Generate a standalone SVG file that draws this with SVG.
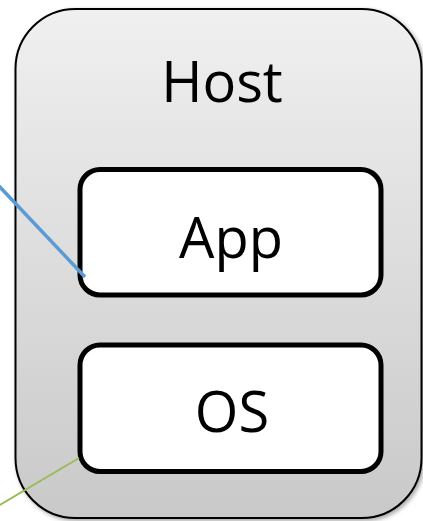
<svg xmlns="http://www.w3.org/2000/svg" width="423" height="521" viewBox="0 0 423 521">
  <defs>
    <linearGradient id="hostFill" x1="0" y1="0" x2="0" y2="1">
      <stop offset="0" stop-color="#f0f0f0"/>
      <stop offset="1" stop-color="#c9c9c9"/>
    </linearGradient>
    <filter id="shadow" x="-5%" y="-5%" width="115%" height="115%">
      <feDropShadow dx="2" dy="2" stdDeviation="2" flood-color="#000" flood-opacity="0.35"/>
    </filter>
  </defs>
  <style>
    .host { fill: url(#hostFill); stroke: #000; stroke-width: 2; }
    .box { fill: #fff; stroke: #000; stroke-width: 5; }
    .label { font-family: "Open Sans", "Noto Sans", sans-serif; font-size: 56px; fill: #000; text-anchor: middle; }
    .link { fill: none; }
  </style>

  <!-- Host container -->
  <g id="host">
    <rect class="host" x="15.5" y="9" width="406" height="509" rx="60" ry="60" filter="url(#shadow)"/>
    <text class="label" x="222" y="102">Host</text>
  </g>

  <!-- Application layer -->
  <g id="app">
    <rect class="box" x="80" y="169.5" width="301" height="125.5" rx="20" ry="20"/>
    <text class="label" x="231" y="258">App</text>
  </g>

  <!-- Operating system layer -->
  <g id="os">
    <rect class="box" x="80" y="345" width="301" height="126.5" rx="20" ry="20"/>
    <text class="label" x="232" y="432">OS</text>
  </g>

  <!-- Incoming connectors -->
  <g id="connectors">
    <line class="link" x1="-2" y1="185" x2="85" y2="277" stroke="#5b9bd5" stroke-width="3.5"/>
    <line class="link" x1="-2" y1="506" x2="79" y2="458" stroke="#9bbb59" stroke-width="2"/>
  </g>
</svg>
